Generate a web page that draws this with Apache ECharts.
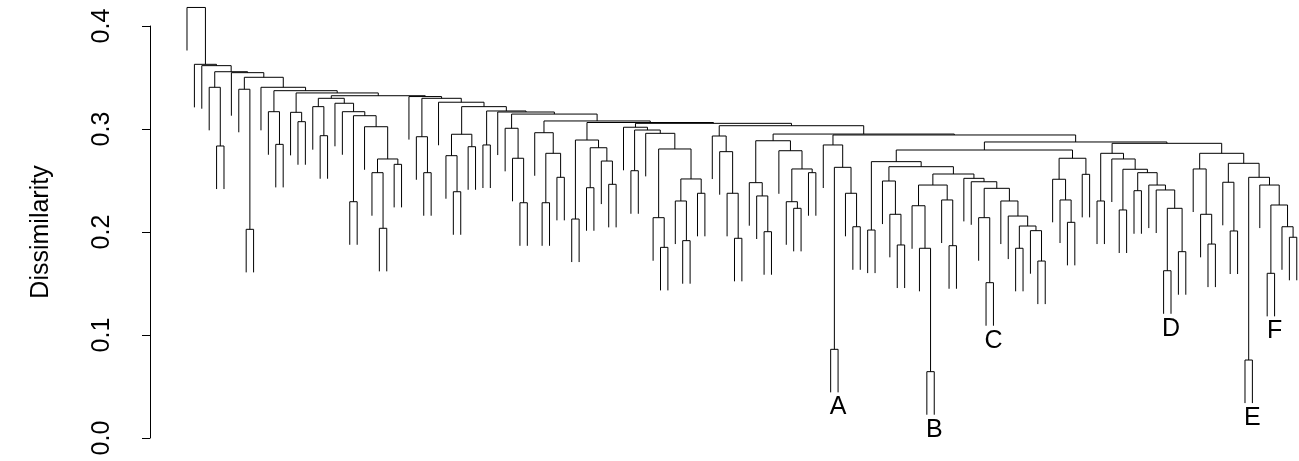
<!DOCTYPE html>
<html>
<head>
<meta charset="utf-8">
<script src="https://cdn.jsdelivr.net/npm/echarts@6/dist/echarts.min.js"></script>
<style>
html,body{margin:0;padding:0;background:#fff}
#chart{width:1299px;height:461px}
</style>
</head>
<body>
<div id="chart"></div>
<script>
var myChart = echarts.init(document.getElementById('chart'));

// tree nodes are [height, left, right]; a leaf is L (no label) or its label
var L = 0;

var yTicks = [0, 0.1, 0.2, 0.3, 0.4];

// clusters hanging off the main chain, left to right
var c456 = [0.3405, L, [0.2835, L, L]];
var c8 = [0.3386, L, [0.2026, L, L]];
var c12 = [0.3168, L, [0.2851, L, L]];
var c15 = [0.3162, L, [0.3071, L, L]];
var c18 = [0.3298, [0.3217, L, [0.2935, L, L]],
  [0.3250, L, [0.3168, L, [0.3129, [0.2294, L, L],
    [0.3022, L, [0.2709, [0.2576, L, [0.2036, L, L]], [0.2657, L, L]]]]]]];
var c32 = [0.2925, L, [0.2576, L, L]];
var c36 = [0.2949, [0.2741, L, [0.2391, L, L]], [0.2828, L, L]];
var c41 = [0.2845, L, L];
var c44 = [0.3007, L, [0.2716, L, [0.2284, L, L]]];
var c48 = [0.2964, L, [0.2764, [0.2284, L, L], [0.2531, L, L]]];
var c53 = [0.2893, [0.2126, L, L], [0.2818, [0.2430, L, L], [0.2689, L, [0.2463, L, L]]]];
var c60 = [0.3017, L, [0.2990, [0.2595, L, L], [0.2958, L,
  [0.2806, [0.2139, L, [0.1851, L, L]], [0.2515, [0.2301, L, [0.1916, L, L]], [0.2376, L, L]]]]]];
var c72 = [0.2932, L, [0.2780, L, [0.2376, L, [0.1939, L, L]]]];
var c77 = [0.2886, [0.2479, L, [0.2350, L, [0.2003, L, L]]],
  [0.2789, L, [0.2612, [0.2294, L, [0.2230, L, L]], [0.2576, L, L]]]];
var c87 = [0.2845, L, [0.2628, [0.0861, L, 'A'], [0.2376, L, [0.2051, L, L]]]];
var c95 = [0.2495, L, [0.2172, L, [0.1874, L, L]]];
var c99 = [0.2456, [0.2255, L, [0.1842, L, [0.0644, L, 'B']]], [0.2311, L, [0.1867, L, L]]];
var c106 = [0.2521, L, [0.2488, L, [0.2424, [0.2139, L, [0.1508, L, 'C']],
  [0.2301, L, [0.2155, L, [0.2058, [0.1842, L, L], [0.2013, L, [0.1718, L, L]]]]]]]];
var c118 = [0.2716, [0.2512, L, [0.2311, L, [0.2094, L, L]]], [0.2560, L, L]];
var c93 = [0.2796, [0.2683, [0.2019, L, L], [0.2634, c95, [0.2563, c99, c106]]], c118];
var c124 = [0.2764, [0.2301, L, L], [0.2709, L, [0.2609, [0.2214, L, L],
  [0.2576, [0.2401, L, L], [0.2456, L, [0.2408, L, [0.2230, [0.1624, L, 'D'], [0.1809, L, L]]]]]]]];
var c137 = [0.2764, [0.2612, L, [0.2172, L, [0.1883, L, L]]],
  [0.2667, [0.2483, L, [0.2010, L, L]],
    [0.2531, [0.0757, L, 'E'], [0.2456, L, [0.2262, [0.1599, L, 'F'], [0.2051, L, [0.1949, L, L]]]]]]];

// main chain: each node joins one branch with the rest of the chain
var chainHeights = [0.418, 0.3628, 0.3615, 0.3556, 0.3547, 0.3502, 0.3405, 0.3372, 0.3350,
  0.3323, 0.3315, 0.3298, 0.3260, 0.3217, 0.3175, 0.3165, 0.3145, 0.3078, 0.3063, 0.3055,
  0.3032, 0.2951, 0.2942, 0.2874, 0.2861];
var chainBranches = [L, L, L, c456, L, c8, L, c12, c15, c18, L, c32, L, c36, c41, L, c44,
  c48, c53, c60, c72, c77, c87, c93];
var lastPair = [c124, c137];

function chainNode(i) {
  if (i === chainHeights.length - 1) return [chainHeights[i], lastPair[0], lastPair[1]];
  return [chainHeights[i], chainBranches[i], chainNode(i + 1)];
}

var hang = 0.1 * chainHeights[0];
var leafCount = 0;
var segs = [];
var labels = [];

function walk(n) {
  if (!Array.isArray(n)) {
    leafCount++;
    return { x: leafCount, leaf: true, name: n };
  }
  var h = n[0];
  var a = walk(n[1]);
  var b = walk(n[2]);
  var ya = a.leaf ? h - hang : a.h;
  var yb = b.leaf ? h - hang : b.h;
  if (a.leaf && a.name) labels.push([a.x, ya, a.name]);
  if (b.leaf && b.name) labels.push([b.x, yb, b.name]);
  segs.push([a.x, ya, b.x, yb, h]);
  return { x: (a.x + b.x) / 2, h: h };
}
walk(chainNode(0));

var font = 'Liberation Sans, Arial, sans-serif';

var option = {
  animation: false,
  backgroundColor: '#fff',
  grid: { left: 150, right: 0, top: 26, bottom: 23 },
  xAxis: {
    type: 'value',
    min: -4,
    max: 151.3,
    show: false
  },
  yAxis: {
    type: 'value',
    min: yTicks[0],
    max: yTicks[yTicks.length - 1],
    interval: 0.1,
    name: 'Dissimilarity',
    nameLocation: 'middle',
    nameRotate: 90,
    nameGap: 96,
    nameTextStyle: { fontSize: 25, color: '#000', fontFamily: font },
    axisLine: { show: true, onZero: false, lineStyle: { color: '#000', width: 1 } },
    axisTick: { show: true, length: 8, lineStyle: { color: '#000', width: 1 } },
    axisLabel: {
      rotate: 90,
      margin: 35,
      fontSize: 25,
      color: '#000',
      fontFamily: font,
      formatter: function (v) { return v.toFixed(1); }
    },
    splitLine: { show: false }
  },
  series: [{
    type: 'custom',
    silent: true,
    clip: false,
    data: segs,
    encode: { x: [0, 2], y: [1, 3, 4] },
    renderItem: function (params, api) {
      var p0 = api.coord([api.value(0), api.value(1)]);
      var p1 = api.coord([api.value(0), api.value(4)]);
      var p2 = api.coord([api.value(2), api.value(4)]);
      var p3 = api.coord([api.value(2), api.value(3)]);
      return {
        type: 'polyline',
        shape: { points: [p0, p1, p2, p3] },
        style: { stroke: '#000', lineWidth: 1, fill: null }
      };
    }
  }, {
    type: 'custom',
    silent: true,
    clip: false,
    data: labels.map(function (d) { return [d[0], d[1]]; }),
    renderItem: function (params, api) {
      var p = api.coord([api.value(0), api.value(1)]);
      return {
        type: 'text',
        x: p[0],
        y: p[1] + 15,
        style: {
          text: labels[params.dataIndex][2],
          fill: '#000',
          fontSize: 25,
          fontFamily: font,
          textAlign: 'center',
          textVerticalAlign: 'middle'
        }
      };
    }
  }]
};
myChart.setOption(option);
</script>
</body>
</html>
